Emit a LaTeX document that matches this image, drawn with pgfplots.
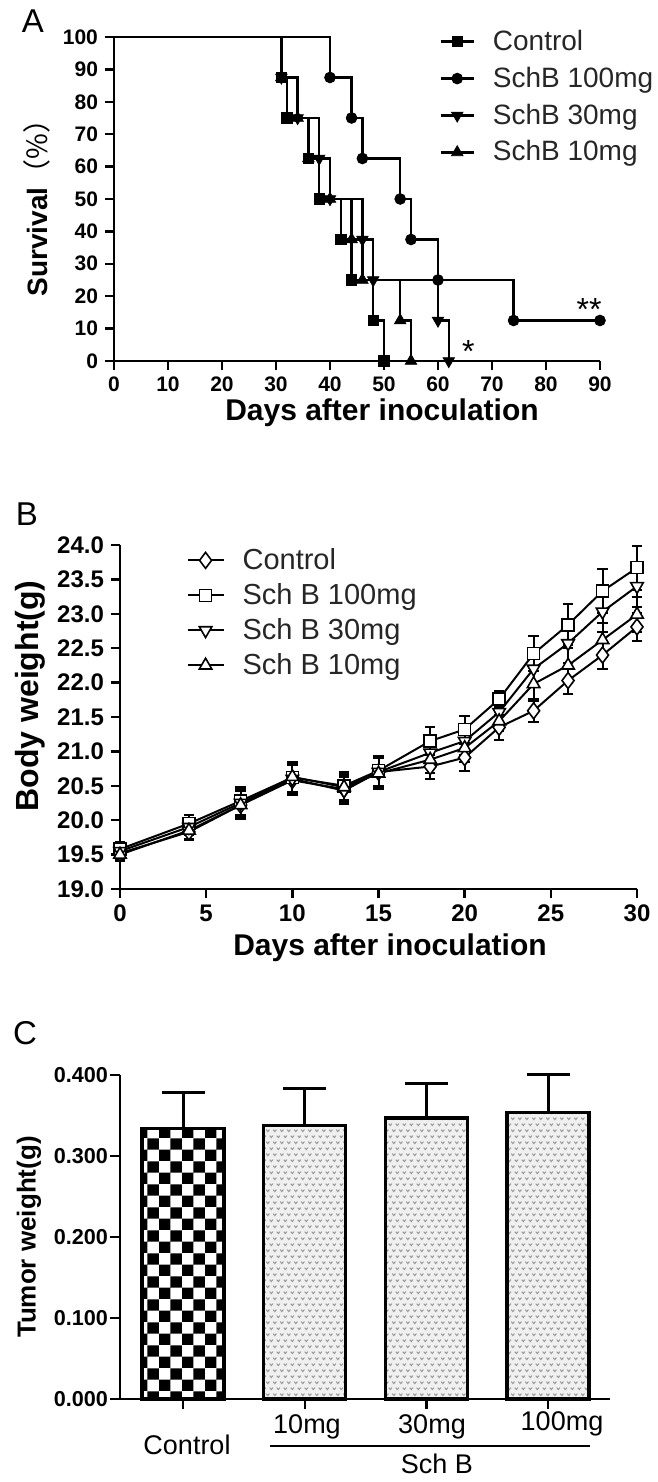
\documentclass[border=0pt]{standalone}
\usepackage{fontspec}
\setmainfont{Liberation Sans}
\newfontfamily\cjk{Noto Sans CJK SC}
\usepackage{pgfplots}
\pgfplotsset{compat=1.18}
\usetikzlibrary{patterns}
\pgfdeclarepatternformonly{vees}{\pgfqpoint{-0.5pt}{-0.5pt}}{\pgfqpoint{4pt}{6.5pt}}{\pgfqpoint{3.5pt}{6pt}}{%
  \pgfsetlinewidth{0.5pt}%
  \pgfpathmoveto{\pgfqpoint{0.1pt}{2.2pt}}\pgfpathlineto{\pgfqpoint{0.9pt}{1.2pt}}\pgfpathlineto{\pgfqpoint{1.7pt}{2.2pt}}%
  \pgfpathmoveto{\pgfqpoint{1.85pt}{5.2pt}}\pgfpathlineto{\pgfqpoint{2.65pt}{4.2pt}}\pgfpathlineto{\pgfqpoint{3.45pt}{5.2pt}}%
  \pgfusepath{stroke}}
\newcommand{\fs}[1]{\fontsize{#1}{#1}\selectfont}

\pgfplotstableread{
x    y      e
0    19.52  0.10
4    19.83  0.12
7    20.22  0.20
10   20.58  0.22
13   20.45  0.20
15   20.70  0.22
18   20.78  0.18
20   20.91  0.20
22   21.35  0.18
24   21.59  0.17
26   22.03  0.20
28   22.40  0.20
30   22.81  0.20
}\bwcontrol
\pgfplotstableread{
x    y      e
0    19.58  0.10
4    19.95  0.12
7    20.28  0.20
10   20.62  0.22
13   20.50  0.20
15   20.72  0.22
18   21.15  0.20
20   21.32  0.20
22   21.76  0.12
24   22.42  0.25
26   22.84  0.30
28   23.33  0.32
30   23.67  0.32
}\bwhundred
\pgfplotstableread{
x    y      e
0    19.55  0.10
4    19.90  0.12
7    20.25  0.20
10   20.60  0.22
13   20.43  0.20
15   20.70  0.22
18   20.98  0.20
20   21.15  0.20
22   21.57  0.15
24   22.20  0.25
26   22.57  0.28
28   23.03  0.30
30   23.40  0.30
}\bwthirty
\pgfplotstableread{
x    y      e
0    19.50  0.10
4    19.85  0.12
7    20.22  0.20
10   20.63  0.22
13   20.48  0.20
15   20.68  0.22
18   20.88  0.20
20   21.05  0.20
22   21.44  0.15
24   21.98  0.25
26   22.25  0.25
28   22.62  0.25
30   22.99  0.25
}\bwten

\pgfplotsset{
  gpstyle/.style={scale only axis, axis x line=bottom, axis y line=left,
    axis line style={-, line width=1.2pt}, tick align=outside,
    major tick length=4.5pt, every tick/.style={black, line width=1.2pt},
    /pgf/number format/assume math mode=true, clip=false,
    enlargelimits=false},
  bstyle/.style={black, line width=1pt,
    error bars/.cd, y dir=both, y explicit,
    error bar style={line width=1pt}, error mark=|,
    error mark options={line width=1pt, mark size=2.6pt, black}},
  cerr/.style={error bars/.cd, y dir=plus, y explicit,
    error bar style={line width=1.5pt}, error mark=|,
    error mark options={line width=1.5pt, mark size=10.75pt, black}},
}

\begin{document}
\begin{tikzpicture}
\useasboundingbox (0,0) rectangle (329pt,741pt);

% ---------------- Panel A ----------------
\begin{axis}[gpstyle, at={(57pt,560.5pt)}, anchor=south west,
  width=243pt, height=162pt,
  xmin=0, xmax=90, ymin=0, ymax=100,
  xtick={0,10,...,90}, ytick={0,10,...,100},
  tick label style={font=\fs{10.5}\bfseries},
  legend style={at={(0.669,1.035)}, anchor=north west, draw=none, fill=none,
    font=\fs{14}, row sep=2.8pt, inner sep=0pt, text=black!85,
    /tikz/every odd column/.append style={column sep=7pt}},
  legend cell align=left,
  legend image code/.code={\draw[line width=1.2pt,black] (0pt,0pt) -- (16.5pt,0pt);
    \draw[#1] plot coordinates {(8.25pt,0pt)};},
]
\addplot[const plot, line width=1.2pt, forget plot] coordinates
  {(0,100)(31,87.5)(32,75)(36,62.5)(38,50)(42,37.5)(44,25)(48,12.5)(50,0)};
\addplot[only marks, mark=square*, mark size=2.6pt] coordinates
  {(31,87.5)(32,75)(36,62.5)(38,50)(42,37.5)(44,25)(48,12.5)(50,0)};
\addlegendentry{Control}
\addplot[const plot, line width=1.2pt, forget plot] coordinates
  {(0,100)(40,87.5)(44,75)(46,62.5)(53,50)(55,37.5)(60,25)(74,12.5)(90,12.5)};
\addplot[only marks, mark=*, mark size=2.7pt] coordinates
  {(40,87.5)(44,75)(46,62.5)(53,50)(55,37.5)(60,25)(74,12.5)(90,12.5)};
\addlegendentry{SchB 100mg}
\addplot[const plot, line width=1.2pt, forget plot] coordinates
  {(0,100)(31,87.5)(34,75)(38,62.5)(40,50)(46,37.5)(48,25)(60,12.5)(62,0)};
\addplot[only marks, mark=triangle*, mark size=3.3pt, mark options={rotate=180}] coordinates
  {(31,87.5)(34,75)(38,62.5)(40,50)(46,37.5)(48,25)(60,12.5)(62,0)};
\addlegendentry{SchB 30mg}
\addplot[const plot, line width=1.2pt, forget plot] coordinates
  {(0,100)(31,87.5)(34,75)(36,62.5)(40,50)(44,37.5)(46,25)(53,12.5)(55,0)};
\addplot[only marks, mark=triangle*, mark size=3.3pt] coordinates
  {(31,87.5)(34,75)(36,62.5)(40,50)(44,37.5)(46,25)(53,12.5)(55,0)};
\addlegendentry{SchB 10mg}
\node[anchor=base, yshift=-9pt] at (axis cs:65.6,5) {\fs{16}*};
\node[anchor=base, yshift=-9pt] at (axis cs:88,18) {\fs{16}**};
\end{axis}
\node at (16.5pt,730.5pt) {\fs{16.5}A};
\node at (191pt,534.5pt) {\fs{15}\bfseries Days after inoculation};
\node[rotate=90] at (18.5pt,640.5pt) {\fs{14}\bfseries Survival{\cjk\mdseries （\%）}};

% ---------------- Panel B ----------------
\begin{axis}[gpstyle, at={(60pt,296.5pt)}, anchor=south west,
  width=258.5pt, height=172pt,
  xmin=0, xmax=30, ymin=19, ymax=24,
  xtick={0,5,...,30}, ytick={19,19.5,20,20.5,21,21.5,22,22.5,23,23.5,24},
  yticklabel style={/pgf/number format/.cd, fixed, fixed zerofill, precision=1},
  tick label style={font=\fs{12}\bfseries},
  legend style={at={(0.128,1.003)}, anchor=north west, draw=none, fill=none,
    font=\fs{14.5}, row sep=1.5pt, inner sep=0pt, text=black!85,
    /tikz/every odd column/.append style={column sep=7pt}},
  legend cell align=left,
  legend image code/.code={\draw[line width=1pt,black] (0pt,0pt) -- (18pt,0pt);
    \draw[#1] plot coordinates {(9pt,0pt)};},
]
\addplot[mark=diamond*, mark size=4pt, mark options={fill=white, line width=0.8pt, solid}, bstyle] table[x=x, y=y, y error=e] {\bwcontrol};
\addlegendentry{Control}
\addplot[mark=square*, mark size=3pt, mark options={fill=white, line width=0.8pt, solid}, bstyle] table[x=x, y=y, y error=e] {\bwhundred};
\addlegendentry{Sch B 100mg}
\addplot[mark=triangle*, mark size=3.6pt, mark options={fill=white, line width=0.8pt, solid, rotate=180}, bstyle] table[x=x, y=y, y error=e] {\bwthirty};
\addlegendentry{Sch B 30mg}
\addplot[mark=triangle*, mark size=3.6pt, mark options={fill=white, line width=0.8pt, solid}, bstyle] table[x=x, y=y, y error=e] {\bwten};
\addlegendentry{Sch B 10mg}
\end{axis}
\node at (13.5pt,484pt) {\fs{16.5}B};
\node at (195pt,267pt) {\fs{15}\bfseries Days after inoculation};
\node[rotate=90] at (15pt,393pt) {\fs{16}\bfseries Body weight(g)};

% ---------------- Panel C ----------------
\begin{axis}[gpstyle, at={(60pt,41.5pt)}, anchor=south west,
  width=245pt, height=162pt,
  xmin=-0.518, xmax=3.509, ymin=0, ymax=0.4,
  xtick={0,1,2,3}, xticklabels={},
  major tick length=5pt,
  ytick={0,0.1,0.2,0.3,0.4},
  yticklabel style={inner sep=0.8pt, /pgf/number format/.cd, fixed, fixed zerofill, precision=3},
  tick label style={font=\fs{10.8}\bfseries},
]
\addplot[ybar, bar width=41pt, draw=black, line width=1.6pt,
  pattern=checkerboard, pattern color=black, cerr]
  coordinates {(0,0.334) +- (0,0.044)};
\addplot[ybar, bar width=41pt, draw=black, line width=1.6pt,
  preaction={fill=gray!12}, pattern=vees, pattern color=gray!80, cerr]
  coordinates {(1,0.338) +- (0,0.045) (2,0.347) +- (0,0.042) (3,0.354) +- (0,0.046)};
\end{axis}
\node at (12.5pt,224.5pt) {\fs{16.5}C};
\node[rotate=90] at (14.5pt,122.5pt) {\fs{13}\bfseries Tumor weight(g)};
\node at (93.5pt,18.5pt) {\fs{13.5}Control};
\node at (153.5pt,27.5pt) {\fs{13.5}10mg};
\node at (216pt,27.5pt) {\fs{13.5}30mg};
\node at (281pt,29pt) {\fs{13.5}100mg};
\draw[line width=0.8pt] (135pt,18pt) -- (295pt,18pt);
\node at (218.5pt,9pt) {\fs{13.5}Sch B};
\end{tikzpicture}
\end{document}
